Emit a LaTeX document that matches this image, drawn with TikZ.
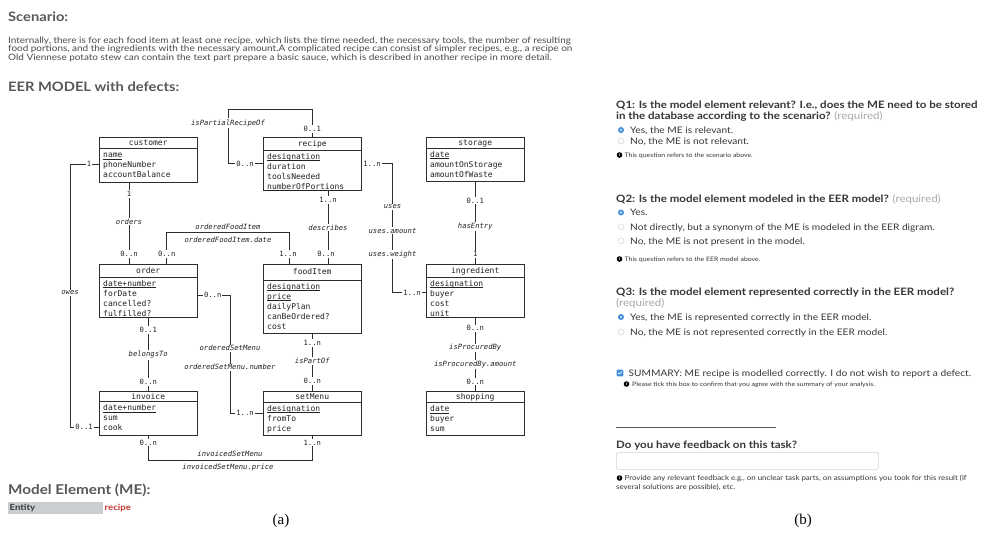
\documentclass[tikz,border=0pt]{standalone}
\usepackage{fontspec}
\setmainfont{Lato}[FakeStretch=1.13]
\newfontfamily\monofont{DejaVu Sans Mono}
\newfontfamily\capfont{Liberation Serif}
\usetikzlibrary{calc}

\definecolor{linec}{HTML}{2E2E2E}
\definecolor{textc}{HTML}{222222}
\definecolor{headc}{HTML}{585858}
\definecolor{bodyc}{HTML}{4A4A4A}
\definecolor{qc}{HTML}{363636}
\definecolor{reqc}{HTML}{A8A8A8}
\definecolor{radioc}{HTML}{3F8ED8}
\definecolor{ringc}{HTML}{D2D2D2}
\definecolor{entbar}{HTML}{C9CED2}
\definecolor{mered}{HTML}{C4372D}

% underlined key attribute
\newcommand\keyul[1]{\setbox0=\hbox{#1}\rlap{\rule[-1.5pt]{\wd0}{0.5pt}}\box0}

% entity box: name, x, y (top left), height, header height, title, attributes
\newcommand\entity[7]{%
  \node[ebox, minimum height=#4pt] (#1) at (#2,#3) {};
  \draw[sepline] ([yshift=-#5pt]#1.north west) -- ([yshift=-#5pt]#1.north east);
  \pgfmathsetmacro\tshift{-(#5/2+2.9)}
  \node[etitle, anchor=base] (#1-title) at ([yshift=\tshift pt]#1.north) {#6};
  \foreach \a [count=\i] in {#7} {
    \pgfmathsetmacro\ashift{-(#5+9.2+10*(\i-1))}
    \node[attr, anchor=base west] (#1-a\i) at ([xshift=4pt,yshift=\ashift pt]#1.north west) {\a};
  }%
}

\begin{document}
\begin{tikzpicture}[x=1pt,y=-1pt,
  ebox/.style={draw=linec, line width=0.9pt, anchor=north west, minimum width=98.5pt,
    inner sep=0pt, outer sep=0pt},
  sepline/.style={draw=linec, line width=0.9pt},
  etitle/.style={font=\monofont\fontsize{8}{10}\selectfont, text=textc, inner sep=0pt},
  attr/.style={font=\monofont\fontsize{8}{10}\selectfont, text=textc, inner sep=0pt},
  conn/.style={draw=linec, line width=0.8pt},
  mult/.style={font=\monofont\fontsize{7.2}{8}\selectfont, text=textc, fill=white, inner sep=0.9pt},
  rel/.style={font=\monofont\itshape\fontsize{7.2}{8}\selectfont, text=textc, fill=white, inner sep=1pt},
  para/.style={font=\fontsize{8.8}{10}\selectfont, text=bodyc, anchor=base west, inner sep=0pt},
  heading/.style={font=\bfseries\fontsize{13}{15}\selectfont, text=headc, anchor=base west, inner sep=0pt},
  qtext/.style={font=\bfseries\fontsize{10.2}{12}\selectfont, text=qc, anchor=base west, inner sep=0pt},
  opt/.style={font=\fontsize{9}{11}\selectfont, text=qc, anchor=base west, inner sep=0pt},
  note/.style={font=\fontsize{6.1}{7.5}\selectfont, text=qc, anchor=base west, inner sep=0pt},
  bignote/.style={font=\fontsize{7}{8.5}\selectfont, text=qc, anchor=base west, inner sep=0pt},
  radon/.style={circle, fill=radioc, minimum size=6pt, inner sep=0pt,
    path picture={\fill[white!65!radioc] (path picture bounding box.center) circle (1.3pt);}},
  radoff/.style={circle, draw=ringc, line width=0.5pt, fill=white, minimum size=6pt, inner sep=0pt},
  infoc/.style={circle, fill=black, minimum size=5.6pt, inner sep=0pt,
    font=\bfseries\fontsize{4.2}{4.2}\selectfont, text=white},
  chk/.style={rectangle, rounded corners=1pt, fill=radioc, minimum size=6.6pt, inner sep=0pt,
    path picture={\draw[white, line width=0.8pt] ([xshift=-1.8pt]path picture bounding box.center)
      -- ++(1.2pt,-1.3pt) -- ++(2.4pt,2.6pt);}},
  caption/.style={font=\capfont\fontsize{15}{17}\selectfont, text=black, inner sep=0pt}
]
\useasboundingbox (0,0) rectangle (984,546);
\clip (0,0) rectangle (984,546);
\fill[white] (0,0) rectangle (984,546);

% ---------------- scenario text ----------------
\node[heading] (scen) at (8,21) {Scenario:};
\node[para] (p1) at (8,43.5) {Internally, there is for each food item at least one recipe, which lists the time needed, the necessary tools, the number of resulting};
\node[para] (p2) at (8,51.8) {food portions, and the ingredients with the necessary amount.A complicated recipe can consist of simpler recipes, e.g., a recipe on};
\node[para] (p3) at (8,60.1) {Old Viennese potato stew can contain the text part prepare a basic sauce, which is described in another recipe in more detail.};
\node[heading] (eer) at (8,91) {EER MODEL with defects:};

% ---------------- entities ----------------
\entity{customer}{99}{137}{45}{11.5}{customer}{\keyul{name},phoneNumber,accountBalance}
\entity{recipe}{263}{137}{53}{13}{recipe}{\keyul{designation},duration,toolsNeeded,\keyul{numberOfPortions}}
\entity{storage}{426}{137}{44}{11}{storage}{\keyul{date},amountOnStorage,amountOfWaste}
\entity{order}{99}{264}{53}{13}{order}{\keyul{date+number},forDate,cancelled?,\keyul{fulfilled?}}
\entity{foodItem}{263}{264}{69}{16}{foodItem}{\keyul{designation},\keyul{price},dailyPlan,canBeOrdered?,cost}
\entity{ingredient}{426}{264}{53}{13}{ingredient}{\keyul{designation},buyer,cost,\keyul{unit}}
\entity{invoice}{99}{391}{44}{10.5}{invoice}{\keyul{date+number},sum,cook}
\entity{setMenu}{263}{391}{44}{11}{setMenu}{\keyul{designation},fromTo,price}
\entity{shopping}{426}{391}{44}{11.5}{shopping}{\keyul{date},buyer,sum}

% ---------------- relationships ----------------
% isPartialRecipeOf (recursive on recipe)
\coordinate (rp1) at (312.25,109);
\coordinate (rp2) at (228,109);
\coordinate (rp3) at (228,163.5);
\draw[conn] (recipe.north) -- (rp1) -- (rp2) -- (rp3) -- (rp3 -| recipe.west);
\node[mult] (rp-m1) at (312.25,129) {0..1};
\node[rel] (rp-l) at (228,123) {isPartialRecipeOf};
\node[mult] (rp-m2) at (245,163.5) {0..n};

% orders
\coordinate (ox) at (129,0);
\draw[conn] (customer.south -| ox) -- (order.north -| ox);
\node[mult] (or-m1) at (129,194) {1};
\node[rel] (or-l) at (129,221.5) {orders};
\node[mult] (or-m2) at (129,254) {0..n};

% owes
\coordinate (ow1) at (70,164.3);
\coordinate (ow2) at (70,427);
\draw[conn] (ow1 -| customer.west) -- (ow1) -- (ow2) -- (ow2 -| invoice.west);
\node[mult] (ow-m1) at (89,164.3) {1};
\node[rel] (ow-l) at (70,293) {owes};
\node[mult] (ow-m2) at (84,427) {0..1};

% orderedFoodItem
\coordinate (of1) at (166.7,232.7);
\coordinate (of2) at (289,232.7);
\draw[conn] (order.north -| of1) -- (of1) -- (of2) -- (foodItem.north -| of2);
\node[rel] (of-l) at (228,226.5) {orderedFoodItem};
\node[rel] (of-a) at (228,239.6) {orderedFoodItem.date};
\node[mult] (of-m1) at (166.7,254) {0..n};
\node[mult] (of-m2) at (288,254) {1..n};

% describes
\coordinate (ds) at (328,0);
\draw[conn] (recipe.south -| ds) -- (foodItem.north -| ds);
\node[mult] (ds-m1) at (328,200) {1..n};
\node[rel] (ds-l) at (328,227.7) {describes};
\node[mult] (ds-m2) at (326,254) {0..n};

% uses
\coordinate (us1) at (392.5,163.5);
\coordinate (us2) at (392.5,292.7);
\draw[conn] (us1 -| recipe.east) -- (us1) -- (us2) -- (us2 -| ingredient.west);
\node[mult] (us-m1) at (372,163.5) {1..n};
\node[rel] (us-l) at (392.5,207) {uses};
\node[rel] (us-a1) at (392.5,230.7) {uses.amount};
\node[rel] (us-a2) at (392.5,254.3) {uses.weight};
\node[mult] (us-m2) at (412,292.7) {1..n};

% hasEntry
\draw[conn] (storage.south) -- (ingredient.north);
\node[mult] (he-m1) at (475.25,200.7) {0..1};
\node[rel] (he-l) at (475.25,226.7) {hasEntry};
\node[mult] (he-m2) at (475.25,254.3) {1};

% belongsTo
\draw[conn] (order.south) -- (invoice.north);
\node[mult] (bt-m1) at (148.25,330) {0..1};
\node[rel] (bt-l) at (148.25,355) {belongsTo};
\node[mult] (bt-m2) at (148.25,382) {0..n};

% orderedSetMenu
\coordinate (os1) at (230,295);
\coordinate (os2) at (230,413);
\draw[conn] (os1 -| order.east) -- (os1) -- (os2) -- (os2 -| setMenu.west);
\node[mult] (os-m1) at (212.7,295) {0..n};
\node[rel] (os-l) at (230,348.3) {orderedSetMenu};
\node[rel] (os-a) at (230,367.3) {orderedSetMenu.number};
\node[mult] (os-m2) at (245,413) {1..n};

% isPartOf
\draw[conn] (foodItem.south) -- (setMenu.north);
\node[mult] (po-m1) at (312.25,343) {1..n};
\node[rel] (po-l) at (312.25,361) {isPartOf};
\node[mult] (po-m2) at (312.25,381) {0..n};

% isProcuredBy
\draw[conn] (ingredient.south) -- (shopping.north);
\node[mult] (pb-m1) at (475.25,328.3) {0..n};
\node[rel] (pb-l) at (475.25,348) {isProcuredBy};
\node[rel] (pb-a) at (475.25,364.3) {isProcuredBy.amount};
\node[mult] (pb-m2) at (475.25,381.7) {0..n};

% invoicedSetMenu
\coordinate (iv1) at (148.25,460.7);
\coordinate (iv2) at (312.25,460.7);
\draw[conn] (invoice.south) -- (iv1) -- (iv2) -- (setMenu.south);
\node[mult] (iv-m1) at (148.25,442.5) {0..n};
\node[mult] (iv-m2) at (312.25,442.5) {1..n};
\node[rel] (iv-l) at (230,454) {invoicedSetMenu};
\node[rel] (iv-a) at (228,467.6) {invoicedSetMenu.price};

% ---------------- model element ----------------
\node[heading, font=\bfseries\fontsize{13.5}{15}\selectfont] (me) at (8,494) {Model Element (ME):};
\node[fill=entbar, anchor=west, minimum width=95pt, minimum height=12pt, inner sep=0pt] (entbar) at (8,508) {};
\node[font=\bfseries\fontsize{8.5}{10}\selectfont, text=qc, anchor=west, inner sep=0pt] (entlab) at (9.5,508.3) {Entity};
\node[font=\bfseries\fontsize{8.5}{10}\selectfont, text=mered, anchor=west, inner sep=0pt] (entval) at (104.5,508.3) {recipe};

\node[caption] (capa) at (281,521) {(a)};

% ---------------- questionnaire ----------------
\node[qtext] (q1a) at (616,108) {Q1: Is the model element relevant? I.e., does the ME need to be stored};
\node[qtext] (q1b) at (616,119.5) {in the database according to the scenario? {\mdseries\color{reqc}(required)}};
\node[radon] (q1r1) at (621,130) {};
\node[opt] (q1o1) at (630,133.2) {Yes, the ME is relevant.};
\node[radoff] (q1r2) at (621,141) {};
\node[opt] (q1o2) at (630,144.2) {No, the ME is not relevant.};
\node[infoc] (q1i) at (619.5,155) {i};
\node[note] (q1n) at (624.5,157.2) {This question refers to the scenario above.};

\node[qtext] (q2a) at (616,202) {Q2: Is the model element modeled in the EER model? {\mdseries\color{reqc}(required)}};
\node[radon] (q2r1) at (621,212.5) {};
\node[opt] (q2o1) at (630,215.7) {Yes.};
\node[radoff] (q2r2) at (621,226.8) {};
\node[opt] (q2o2) at (630,230) {Not directly, but a synonym of the ME is modeled in the EER digram.};
\node[radoff] (q2r3) at (621,241) {};
\node[opt] (q2o3) at (630,244.2) {No, the ME is not present in the model.};
\node[infoc] (q2i) at (619.5,259) {i};
\node[note] (q2n) at (624.5,261.2) {This question refers to the EER model above.};

\node[qtext] (q3a) at (616,295) {Q3: Is the model element represented correctly in the EER model?};
\node[qtext] (q3b) at (616,306.5) {\mdseries\color{reqc}(required)};
\node[radon] (q3r1) at (621,317) {};
\node[opt] (q3o1) at (630,320.2) {Yes, the ME is represented correctly in the EER model.};
\node[radoff] (q3r2) at (621,332) {};
\node[opt] (q3o2) at (630,335.2) {No, the ME is not represented correctly in the EER model.};

\node[chk] (sumbox) at (620,373) {};
\node[opt] (sum) at (628.5,376.3) {SUMMARY: ME recipe is modelled correctly. I do not wish to report a defect.};
\node[infoc] (sumi) at (626.5,384) {i};
\node[note] (sumn) at (632,386.2) {Please tick this box to confirm that you agree with the summary of your analysis.};

\draw[draw=headc, line width=0.8pt] (616,427.5) -- (776,427.5);
\node[qtext] (fbq) at (616,448) {Do you have feedback on this task?};
\node[draw=ringc, line width=0.7pt, rounded corners=1.5pt, anchor=north west,
  minimum width=262pt, minimum height=17pt, inner sep=0pt] (fbbox) at (616,452) {};
\node[infoc] (fbi) at (619.5,478) {i};
\node[bignote] (fbn1) at (624.5,480.5) {Provide any relevant feedback e.g., on unclear task parts, on assumptions you took for this result (if};
\node[bignote] (fbn2) at (616,489.5) {several solutions are possible), etc.};

\node[caption] (capb) at (803,521) {(b)};
\end{tikzpicture}
\end{document}
